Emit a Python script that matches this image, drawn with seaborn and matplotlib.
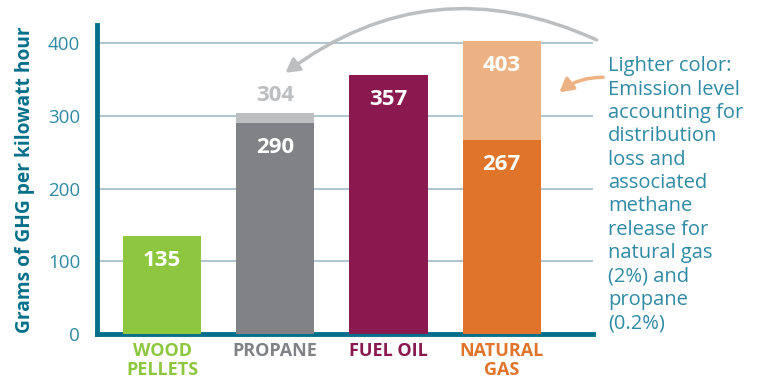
import matplotlib
matplotlib.use("Agg")
import matplotlib.pyplot as plt
import seaborn as sns
import pandas as pd

# chart values
fuels = ["WOOD\nPELLETS", "PROPANE", "FUEL OIL", "NATURAL\nGAS"]
base_values = [135, 290, 357, 267]
total_values = [135, 304, 357, 403]
base_colors = ["#8DC63F", "#808285", "#8A1950", "#DF742A"]
light_colors = ["#8DC63F", "#BCBEC0", "#8A1950", "#EDB283"]
y_ticks = [0, 100, 200, 300, 400]
note = ("Lighter color:\nEmission level\naccounting for\ndistribution\nloss and\nassociated\n"
        "methane\nrelease for\nnatural gas\n(2%) and\npropane\n(0.2%)")

TEAL = "#036F8A"
TEXT_TEAL = "#2F8AA4"

sns.set_style("white")
plt.rcParams["font.family"] = ["Open Sans", "DejaVu Sans"]

df = pd.DataFrame({"fuel": fuels, "base": base_values, "total": total_values})

fig = plt.figure(figsize=(7.69, 3.80), dpi=100)
ax = fig.add_axes([0.126, 0.121, 0.645, 0.813])

for y in y_ticks[1:]:
    ax.axhline(y, color="#A9C0CC", lw=1.3, zorder=0)

sns.barplot(data=df, x="fuel", y="total", hue="fuel", palette=light_colors,
            width=0.69, saturation=1, legend=False, ax=ax, zorder=2, linewidth=0)
sns.barplot(data=df, x="fuel", y="base", hue="fuel", palette=base_colors,
            width=0.69, saturation=1, legend=False, ax=ax, zorder=3, linewidth=0)

ax.set_xlim(-0.575, 3.805)
ax.set_ylim(0, 425)
ax.set_yticks(y_ticks)
ax.set_yticklabels([str(v) for v in y_ticks], color=TEXT_TEAL, fontsize=13.5)
ax.tick_params(axis="y", length=0, pad=12)
ax.tick_params(axis="x", length=0, pad=6)
ax.set_xticks(range(len(fuels)))
ax.set_xticklabels(fuels, fontsize=13, fontweight="bold", linespacing=1.05)
for lbl, c in zip(ax.get_xticklabels(), base_colors):
    lbl.set_color(c)
    lbl.set_verticalalignment("top")
ax.set_xlabel("")
ax.set_ylabel("Grams of GHG per kilowatt hour", color=TEAL, fontsize=13.8,
              fontweight="bold", labelpad=9)

for side in ["top", "right"]:
    ax.spines[side].set_visible(False)
ax.spines["left"].set_color(TEAL)
ax.spines["left"].set_linewidth(3.5)
ax.spines["bottom"].set_color(TEAL)
ax.spines["bottom"].set_linewidth(3.5)

# value labels
for i, (b, t) in enumerate(zip(base_values, total_values)):
    ax.text(i, b - 34, str(b), ha="center", va="center", color="white",
            fontsize=16, fontweight="bold", zorder=5)
    if t != b:
        if t - b > 40:
            ax.text(i, t - 34, str(t), ha="center", va="center", color="white",
                    fontsize=16, fontweight="bold", zorder=5)
        else:
            ax.text(i, t + 24, str(t), ha="center", va="center", color="#BCBEC0",
                    fontsize=16, fontweight="bold", zorder=5)

# note text
fig.text(0.791, 0.852, note, color=TEXT_TEAL, fontsize=14.5, va="top", ha="left",
         linespacing=1.225)

# arrows
ax.annotate("", xy=(1.07, 357), xytext=(3.86, 403), annotation_clip=False,
            arrowprops=dict(arrowstyle="-|>,head_length=0.8,head_width=0.45",
                            color="#BCBEC0", lw=2.5,
                            connectionstyle="arc3,rad=0.3"))
ax.annotate("", xy=(3.49, 330), xytext=(3.92, 353), annotation_clip=False,
            arrowprops=dict(arrowstyle="-|>,head_length=0.8,head_width=0.45",
                            color="#EDB283", lw=2.5,
                            connectionstyle="arc3,rad=0.2"))

fig.savefig("out.png", dpi=100)
